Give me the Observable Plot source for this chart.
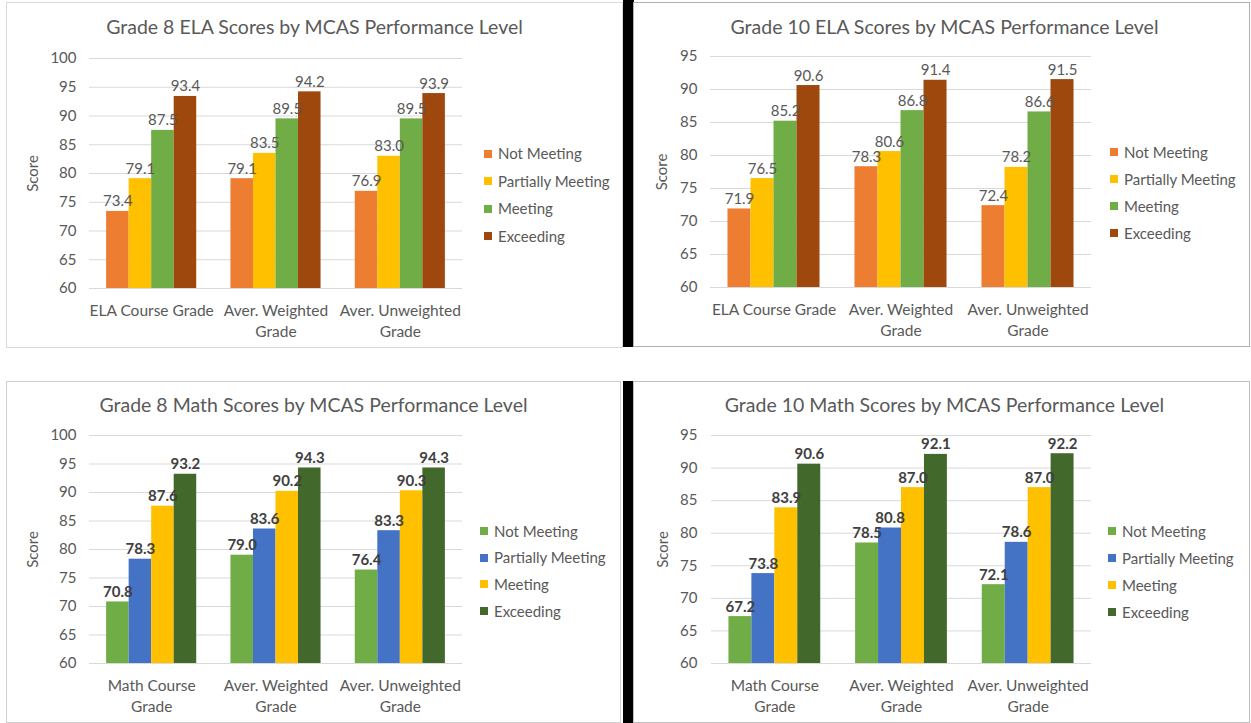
<!DOCTYPE html>
<html>
<head>
<meta charset="utf-8">
<script src="https://cdn.jsdelivr.net/npm/d3@7"></script>
<script src="https://cdn.jsdelivr.net/npm/@observablehq/plot@0.6"></script>
<style>
  html, body { margin: 0; padding: 0; background: #ffffff; }
  body { width: 1251px; height: 723px; position: relative; overflow: hidden; font-family: Lato, "Open Sans", sans-serif; }
  .panel { position: absolute; background: #fff; }
  .panel svg { position: absolute; left: 0; top: 0; overflow: visible; }
  .title { position: absolute; left: 0; width: 100%; text-align: center; font-size: 19.5px; line-height: 24px; color: #595959; white-space: nowrap; }
  .legend { position: absolute; font-size: 15px; color: #595959; }
  .legend .item { position: relative; white-space: nowrap; }
  .legend .sw { position: absolute; left: 0; width: 8px; height: 8px; }
  .legend .lab { position: absolute; left: 14px; top: 0; }
  .bar { position: absolute; background: #000; }
</style>
</head>
<body>
<div class="bar" style="left:623px; top:0px; width:11px; height:347px;"></div>
<div class="bar" style="left:623px; top:381px; width:11px; height:342px;"></div>
<div id="p1" class="panel" style="left:7px; top:3px; width:615px; height:344px; outline:1px solid #d9d9d9;"></div>
<div id="p2" class="panel" style="left:634px; top:3px; width:615px; height:343px; outline:1px solid #b0b0b0;"></div>
<div id="p3" class="panel" style="left:7px; top:382px; width:613px; height:340px; outline:1px solid #d0d0d0;"></div>
<div id="p4" class="panel" style="left:634px; top:382px; width:615px; height:340px; outline:1px solid #c0c0c0;"></div>
<script>
// ---------- data ----------
const levels = ["Not Meeting", "Partially Meeting", "Meeting", "Exceeding"];
const elaCategories = ["ELA Course Grade", "Aver. Weighted\nGrade", "Aver. Unweighted\nGrade"];
const mathCategories = ["Math Course\nGrade", "Aver. Weighted\nGrade", "Aver. Unweighted\nGrade"];

const yTicks100 = [60, 65, 70, 75, 80, 85, 90, 95, 100];
const yTicks95 = [60, 65, 70, 75, 80, 85, 90, 95];

const elaColors = ["#ED7D31", "#FFC000", "#70AD47", "#9E480E"];
const mathColors = ["#70AD47", "#4472C4", "#FFC000", "#43682B"];

// Grade 8 ELA (per level, values for each category)
const g8ElaNotMeeting = [73.4, 79.1, 76.9];
const g8ElaPartially = [79.1, 83.5, 83.0];
const g8ElaMeeting = [87.5, 89.5, 89.5];
const g8ElaExceeding = [93.4, 94.2, 93.9];

// Grade 10 ELA
const g10ElaNotMeeting = [71.9, 78.3, 72.4];
const g10ElaPartially = [76.5, 80.6, 78.2];
const g10ElaMeeting = [85.2, 86.8, 86.6];
const g10ElaExceeding = [90.6, 91.4, 91.5];

// Grade 8 Math
const g8MathNotMeeting = [70.8, 79.0, 76.4];
const g8MathPartially = [78.3, 83.6, 83.3];
const g8MathMeeting = [87.6, 90.2, 90.3];
const g8MathExceeding = [93.2, 94.3, 94.3];

// Grade 10 Math
const g10MathNotMeeting = [67.2, 78.5, 72.1];
const g10MathPartially = [73.8, 80.8, 78.6];
const g10MathMeeting = [83.9, 87.0, 87.0];
const g10MathExceeding = [90.6, 92.1, 92.2];

// ---------- drawing ----------
function drawPanel(cfg) {
  const el = document.getElementById(cfg.id);
  const rows = [];
  cfg.categories.forEach((c, i) => {
    levels.forEach((l, j) => rows.push({cat: c, level: l, value: cfg.series[j][i]}));
  });
  const yMin = cfg.ticks[0];
  const yMax = cfg.ticks[cfg.ticks.length - 1];

  const t = document.createElement("div");
  t.className = "title";
  t.style.top = cfg.titleTop + "px";
  t.style.marginLeft = (cfg.titleShift || 0) + "px";
  t.textContent = cfg.title;
  el.appendChild(t);

  const chart = Plot.plot({
    width: cfg.width,
    height: cfg.height,
    marginTop: cfg.mt,
    marginBottom: cfg.mb,
    marginLeft: cfg.ml,
    marginRight: cfg.mr,
    style: {fontFamily: "Lato, 'Open Sans', sans-serif", fontSize: "15px", color: "#595959", background: "transparent", overflow: "visible"},
    fx: {domain: cfg.categories, padding: 0, axis: null, round: false},
    x: {domain: levels, paddingInner: 0, paddingOuter: 0.76, axis: null, round: false},
    y: {domain: [yMin, yMax], ticks: cfg.ticks, tickSize: 0, tickPadding: cfg.tickPad, label: "Score", labelAnchor: "center", labelArrow: "none", labelOffset: cfg.labelOffset},
    color: {domain: levels, range: cfg.colors},
    marks: [
      Plot.ruleY(cfg.ticks, {stroke: "#d9d9d9", strokeWidth: 1}),
      Plot.barY(rows, {fx: "cat", x: "level", y1: yMin, y2: "value", fill: "level"}),
      Plot.text(rows, {
        fx: "cat", x: "level", y: "value",
        text: d => d.value.toFixed(1),
        dy: -5, lineAnchor: "bottom",
        fill: cfg.valueColor, fontWeight: cfg.valueWeight, fontSize: 15
      }),
      Plot.text(cfg.categories, {
        fx: d => d, text: d => d,
        frameAnchor: "bottom", lineAnchor: "top", dy: 12, lineHeight: 1.38,
        fontSize: 15.5, fill: "#595959"
      })
    ]
  });
  el.appendChild(chart);

  const lg = document.createElement("div");
  lg.className = "legend";
  lg.style.left = cfg.legendLeft + "px";
  lg.style.top = cfg.legendTop + "px";
  levels.forEach((l, j) => {
    const it = document.createElement("div");
    it.className = "item";
    it.style.height = cfg.legendStep + "px";
    it.style.lineHeight = cfg.legendStep + "px";
    const sw = document.createElement("span");
    sw.className = "sw";
    sw.style.background = cfg.colors[j];
    sw.style.top = (cfg.legendStep / 2 - 4) + "px";
    const lab = document.createElement("span");
    lab.className = "lab";
    lab.textContent = l;
    it.appendChild(sw); it.appendChild(lab);
    lg.appendChild(it);
  });
  el.appendChild(lg);
}

drawPanel({
  id: "p1", title: "Grade 8 ELA Scores by MCAS Performance Level", titleTop: 12,
  categories: elaCategories, series: [g8ElaNotMeeting, g8ElaPartially, g8ElaMeeting, g8ElaExceeding],
  colors: elaColors, ticks: yTicks100, valueColor: "#595959", valueWeight: "normal",
  width: 615, height: 344, mt: 55, mb: 59, ml: 82, mr: 160, tickPad: 13, labelOffset: 62,
  legendLeft: 477, legendTop: 137, legendStep: 27.5
});
drawPanel({
  id: "p2", title: "Grade 10 ELA Scores by MCAS Performance Level", titleTop: 12, titleShift: 3,
  categories: elaCategories, series: [g10ElaNotMeeting, g10ElaPartially, g10ElaMeeting, g10ElaExceeding],
  colors: elaColors, ticks: yTicks95, valueColor: "#595959", valueWeight: "normal",
  width: 615, height: 343, mt: 53, mb: 59, ml: 76, mr: 158, tickPad: 13, labelOffset: 54,
  legendLeft: 476, legendTop: 135.5, legendStep: 27
});
drawPanel({
  id: "p3", title: "Grade 8 Math Scores by MCAS Performance Level", titleTop: 11,
  categories: mathCategories, series: [g8MathNotMeeting, g8MathPartially, g8MathMeeting, g8MathExceeding],
  colors: mathColors, ticks: yTicks100, valueColor: "#404040", valueWeight: "bold",
  width: 613, height: 340, mt: 53, mb: 59, ml: 82, mr: 158, tickPad: 13, labelOffset: 62,
  legendLeft: 473, legendTop: 135.5, legendStep: 26.7
});
drawPanel({
  id: "p4", title: "Grade 10 Math Scores by MCAS Performance Level", titleTop: 11, titleShift: 3,
  categories: mathCategories, series: [g10MathNotMeeting, g10MathPartially, g10MathMeeting, g10MathExceeding],
  colors: mathColors, ticks: yTicks95, valueColor: "#404040", valueWeight: "bold",
  width: 615, height: 340, mt: 53, mb: 59, ml: 77, mr: 158, tickPad: 14, labelOffset: 54,
  legendLeft: 474, legendTop: 135.5, legendStep: 27
});
</script>
</body>
</html>
